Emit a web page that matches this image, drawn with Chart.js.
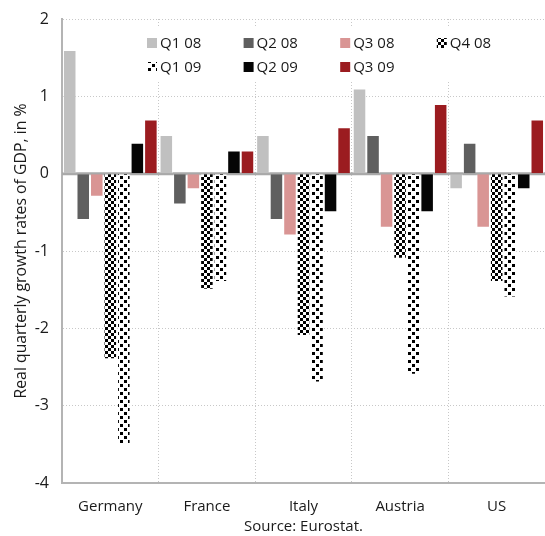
<!DOCTYPE html>
<html>
<head>
<meta charset="utf-8">
<script src="https://cdn.jsdelivr.net/npm/chart.js@4/dist/chart.umd.min.js"></script>
<style>
  html, body { margin: 0; padding: 0; background: #fff; }
  #wrap { width: 545px; height: 536px; position: relative; }
</style>
</head>
<body>
<div id="wrap"><canvas id="c" width="545" height="536"></canvas></div>
<script>
// Countries on the category axis
const countries = ['Germany', 'France', 'Italy', 'Austria', 'US'];

// Quarter-on-quarter real GDP growth, % (one array per quarter)
const q1_08 = [1.6, 0.5, 0.5, 1.1, -0.2];
const q2_08 = [-0.6, -0.4, -0.6, 0.5, 0.4];
const q3_08 = [-0.3, -0.2, -0.8, -0.7, -0.7];
const q4_08 = [-2.4, -1.5, -2.1, -1.1, -1.4];
const q1_09 = [-3.5, -1.4, -2.7, -2.6, -1.6];
const q2_09 = [0.4, 0.3, -0.5, -0.5, -0.2];
const q3_09 = [0.7, 0.3, 0.6, 0.9, 0.7];

const quarterLabels = ['Q1 08', 'Q2 08', 'Q3 08', 'Q4 08', 'Q1 09', 'Q2 09', 'Q3 09'];
const yTicks = [2, 1, 0, -1, -2, -3, -4];

const FONT = '"Open Sans", "Noto Sans", sans-serif';

// Checkerboard fill for Q4 08
function checkerPattern() {
  const c = document.createElement('canvas');
  c.width = 6; c.height = 6;
  const g = c.getContext('2d');
  g.fillStyle = '#fff'; g.fillRect(0, 0, 6, 6);
  g.fillStyle = '#000';
  g.fillRect(0, 0, 3, 3);
  g.fillRect(3, 3, 3, 3);
  return g.createPattern(c, 'repeat');
}
// Sparser diagonal-dot fill for Q1 09
function sparsePattern() {
  const c = document.createElement('canvas');
  c.width = 8; c.height = 8;
  const g = c.getContext('2d');
  g.fillStyle = '#fff'; g.fillRect(0, 0, 8, 8);
  g.fillStyle = '#000';
  g.fillRect(0, 0, 3, 3);
  g.fillRect(4, 4, 3, 3);
  return g.createPattern(c, 'repeat');
}

const fills = ['#c0c0c0', '#5f5f5f', '#d99594', checkerPattern(), sparsePattern(), '#050505', '#9b1c20'];
const series = [q1_08, q2_08, q3_08, q4_08, q1_09, q2_09, q3_09];

const datasets = series.map((d, i) => ({
  label: quarterLabels[i],
  data: d,
  backgroundColor: fills[i],
  borderColor: 'rgba(255,255,255,0.4)',
  borderWidth: 1,
  categoryPercentage: 0.98,
  barPercentage: 1.0
}));

// Solid zero line and a white-backed legend laid out in four columns
const extras = {
  id: 'extras',
  beforeDatasetsDraw(chart) {
    const { ctx, chartArea, scales } = chart;
    const y0 = scales.y.getPixelForValue(0);
    ctx.save();
    ctx.fillStyle = '#fff';
    ctx.fillRect(chartArea.left + 78, chartArea.top + 9, chartArea.right - chartArea.left - 83, 52);
    ctx.strokeStyle = '#a9a9a9';
    ctx.lineWidth = 3;
    ctx.beginPath();
    ctx.moveTo(chartArea.left, y0);
    ctx.lineTo(chartArea.right, y0);
    ctx.stroke();
    ctx.restore();
  },
  afterDraw(chart) {
    const { ctx, chartArea } = chart;
    const colW = (chartArea.right - chartArea.left) / countries.length;
    ctx.save();
    ctx.font = '15px ' + FONT;
    ctx.textBaseline = 'middle';
    ctx.textAlign = 'left';
    chart.data.datasets.forEach((ds, i) => {
      const col = i % 4, row = Math.floor(i / 4);
      const bx = chartArea.left + 85 + col * colW;
      const by = chartArea.top + 24 + row * 24;
      ctx.fillStyle = ds.backgroundColor;
      ctx.fillRect(bx, by - 5, 10, 10);
      ctx.fillStyle = '#1a1a1a';
      ctx.fillText(ds.label, bx + 13, by + 1);
    });
    ctx.restore();
  }
};

new Chart(document.getElementById('c'), {
  type: 'bar',
  data: { labels: countries, datasets },
  options: {
    responsive: false,
    animation: false,
    devicePixelRatio: 1,
    layout: { padding: { top: 19, right: 0, bottom: 0, left: 0 } },
    plugins: { legend: { display: false }, tooltip: { enabled: false } },
    scales: {
      x: {
        offset: true,
        grid: { offset: true, color: '#c8c8c8', lineWidth: 1, drawTicks: false },
        border: { display: true, color: '#b4b4b4', width: 2, dash: [1, 2] },
        ticks: { color: '#1a1a1a', font: { family: FONT, size: 15 }, padding: 15 },
        title: {
          display: true, text: 'Source: Eurostat.', color: '#1a1a1a',
          font: { family: FONT, size: 15 }, padding: { top: 1, bottom: 0 }
        },
        afterFit(s) { s.height = 53; s.paddingLeft = 0; s.paddingRight = 0; }
      },
      y: {
        min: -4, max: 2,
        afterBuildTicks(s) { s.ticks = yTicks.map(v => ({ value: v })); },
        grid: {
          color: (c) => (c.tick && c.tick.value === 0) ? 'rgba(0,0,0,0)' : '#c8c8c8',
          lineWidth: 1, drawTicks: false
        },
        border: { display: true, color: '#b4b4b4', width: 2, dash: [1, 2] },
        ticks: { color: '#1a1a1a', font: { family: FONT, size: 16 }, padding: 13 },
        title: {
          display: true, text: 'Real quarterly growth rates of GDP, in %', color: '#1a1a1a',
          font: { family: FONT, size: 15.8 }, padding: { top: 12, bottom: 0 }
        },
        afterFit(s) { s.width = 62; s.paddingTop = 0; s.paddingBottom = 0; }
      }
    }
  },
  plugins: [extras]
});
</script>
</body>
</html>
